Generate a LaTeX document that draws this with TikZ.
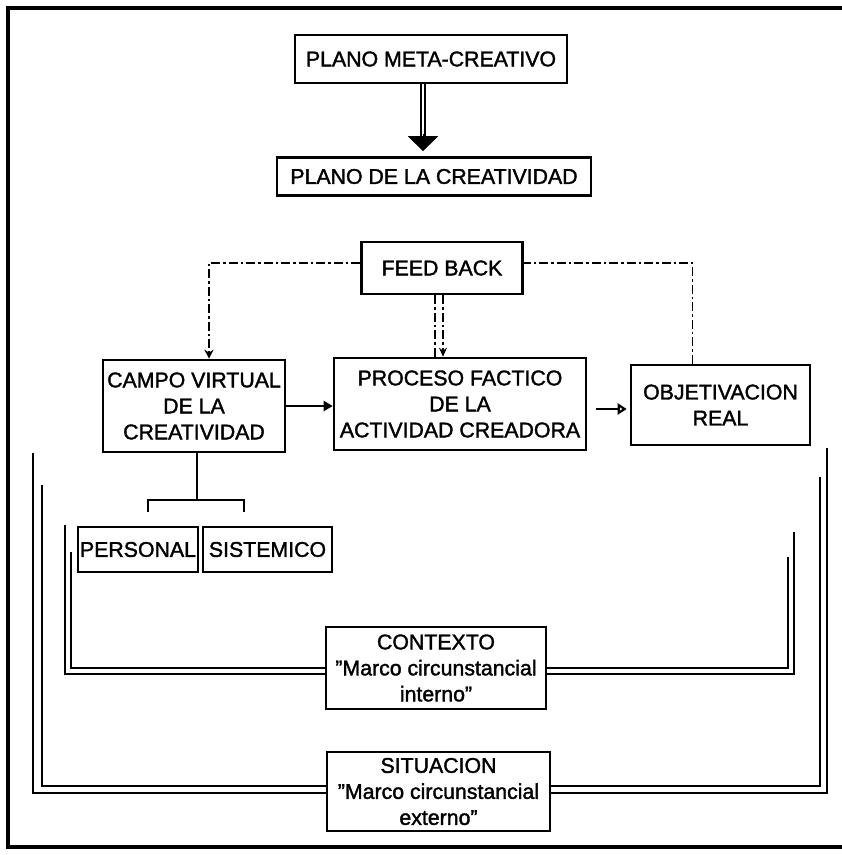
\documentclass[tikz,border=0pt]{standalone}
\usepackage{fontspec}
\setmainfont[FakeBold=1.6]{Liberation Sans}
\usetikzlibrary{arrows.meta}

\begin{document}
\begin{tikzpicture}[x=1pt,y=-1pt,font=\fontsize{21.3}{26}\selectfont,
   blk/.style={rectangle,draw,line width=2.6pt,fill=white,align=center,inner sep=0pt},
   fb/.style={line width=1.8pt,dash pattern=on 9pt off 3pt on 2.5pt off 3pt},
   frm/.style={line width=2.4pt},
   ar/.style={-{Triangle[length=9pt,width=10pt]},line width=2pt}]

  \useasboundingbox (0,0) rectangle (842,855);
  \draw[line width=4pt] (880,8) -- (8,8) -- (8,847) -- (880,847);

  \node[blk,minimum width=272,minimum height=48] (meta) at (431,59) {PLANO META-CREATIVO};
  \node[blk,minimum width=314,minimum height=38] (crea) at (434,176.5) {PLANO DE LA CREATIVIDAD};
  \node[blk,minimum width=161,minimum height=52] (feed) at (442,268) {FEED BACK};
  \node[blk,minimum width=182,minimum height=92] (campo) at (194,406)
    {CAMPO VIRTUAL\\DE LA\\CREATIVIDAD};
  \node[blk,minimum width=252,minimum height=92] (proc) at (460,404)
    {PROCESO FACTICO\\DE LA\\ACTIVIDAD CREADORA};
  \node[blk,minimum width=179,minimum height=80] (obj) at (720.5,405)
    {OBJETIVACION\\REAL};
  \node[blk,minimum width=120,minimum height=45] (pers) at (138,549.5) {PERSONAL};
  \node[blk,minimum width=129,minimum height=45] (sist) at (267.5,549.5) {SISTEMICO};

  % marcos interno y externo
  \coordinate (inLa) at (65,525);  \coordinate (inLb) at (71,552);
  \coordinate (inRa) at (794,532); \coordinate (inRb) at (788,557);
  \coordinate (outLa) at (33,453); \coordinate (outLb) at (42,485);
  \coordinate (outRa) at (827,448); \coordinate (outRb) at (820,477);
  \node[blk,minimum width=220,minimum height=82] (ctx) at (436,668)
    {CONTEXTO\\''Marco circunstancial\\interno''};
  \node[blk,minimum width=223,minimum height=79] (sit) at (438.5,791.5)
    {SITUACION\\''Marco circunstancial\\externo''};
  \draw[frm] (inLa) |- ([yshift=-6pt]ctx.west);
  \draw[frm] (inLb) |- (ctx.west);
  \draw[frm] ([yshift=-6pt]ctx.east) -| (inRa);
  \draw[frm] (ctx.east) -| (inRb);
  \draw[frm] (outLa) |- ([yshift=-1.5pt]sit.west);
  \draw[frm] (outLb) |- ([yshift=5.5pt]sit.west);
  \draw[frm] ([yshift=-1.5pt]sit.east) -| (outRa);
  \draw[frm] ([yshift=5.5pt]sit.east) -| (outRb);

  % plano meta -> plano de la creatividad
  \draw[line width=1.8pt,double,double distance=2.6pt] ([xshift=-8pt]meta.south) -- ([xshift=-8pt,yshift=19pt]meta.south |- crea.north);
  \draw[-{Triangle[length=15pt,width=30pt]},line width=1pt] ([xshift=-8pt,yshift=22pt]meta.south |- crea.north) -- ([xshift=-8pt,yshift=5pt]meta.south |- crea.north);

  % feed back
  \draw[fb,-{Stealth[length=9pt,width=9pt]}] ([yshift=5pt]feed.west) -| ([xshift=15pt]campo.north);
  \draw[fb,line width=1.4pt] ([xshift=-7pt]feed.south) -- ([xshift=-7pt]feed.south |- proc.north);
  \draw[fb,line width=1.4pt,-{Stealth[length=9pt,width=8pt]}] ([xshift=1pt]feed.south) -- ([xshift=1pt]feed.south |- proc.north);
  \draw[fb] ([xshift=-28pt]obj.north) |- ([yshift=5pt]feed.east);

  \draw[ar] (campo.east) -- (campo.east -| proc.west);
  \draw[-{Triangle[open,length=9pt,width=11pt]},line width=2.2pt,shorten <=9pt,shorten >=3pt]
    ([yshift=-5pt]proc.east) -- ([yshift=-5pt]proc.east -| obj.west);

  % campo virtual -> personal / sistemico
  \coordinate (brk) at (197,500);
  \coordinate (brkL) at (148,512); \coordinate (brkR) at (244,512);
  \draw[line width=2.2pt] ([xshift=3pt]campo.south) -- ([xshift=3pt]campo.south |- brk);
  \draw[line width=2.2pt] (brkL) -- ++(0,-12) -| (brkR);
\end{tikzpicture}
\end{document}
